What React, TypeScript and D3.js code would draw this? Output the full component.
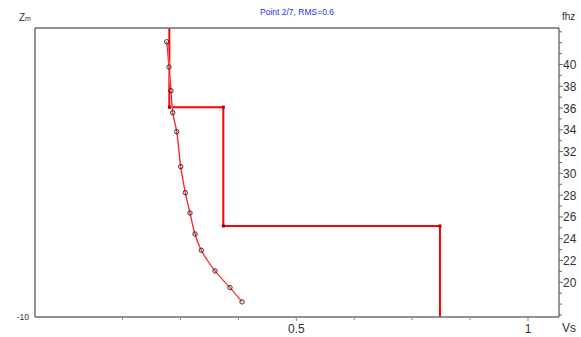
import React from "react";
import * as d3 from "d3";

const title = "Point 2/7, RMS=0.6";
// dispersion curve samples
const curveFreq = [42.09, 39.77, 37.59, 35.57, 33.83, 30.62, 28.23, 26.36, 24.43, 22.94, 21.04, 19.51, 18.2];
const curveVs = [0.2203, 0.2253, 0.2296, 0.2333, 0.2419, 0.2505, 0.2605, 0.2706, 0.2814, 0.295, 0.3246, 0.3569, 0.3828];
// Vs profile layers
const layerVs = [0.226, 0.3425, 0.81];
const layerBottom = [-2.74, -6.85, -10];
const xTickLabels = [0.5, 1];
const xMinorTicks = [0.125, 0.25, 0.375, 0.5, 0.625, 0.75, 0.875, 1];
const fLabelTicks = [20, 22, 24, 26, 28, 30, 32, 34, 36, 38, 40];
const fMinorTicks = [17, 18, 19, 21, 23, 25, 27, 29, 31, 33, 35, 37, 39, 41, 42, 43];

const W = 581, H = 337;
const L = 35, R = 559, T = 28, B = 317;
const font = "'Liberation Sans', Arial, sans-serif";

export default function App() {
  const x = d3.scaleLinear().domain([-0.0639, 1.0669]).range([L, R]);
  const yf = d3.scaleLinear().domain([16.81, 43.35]).range([B, T]);
  const yz = d3.scaleLinear().domain([-10, 0]).range([B, T]);

  const profile: [number, number][] = [];
  let top = 0;
  layerVs.forEach((v, i) => {
    profile.push([v, top]);
    profile.push([v, layerBottom[i]]);
    top = layerBottom[i];
  });
  const profLine = d3.line<[number, number]>().x(d => x(d[0])).y(d => yz(d[1]));
  const pts = curveFreq.map((f, i) => [curveVs[i], f] as [number, number]);
  const curveLine = d3.line<[number, number]>().x(d => x(d[0])).y(d => yf(d[1])).curve(d3.curveCatmullRom);
  const corners = profile.slice(1, -1);

  return (
    <div style={{ position: "fixed", left: 0, top: 0 }}>
      <svg width={W} height={H} style={{ display: "block", background: "#fff" }}>
        <text x={(L + R) / 2} y={15} textAnchor="middle" fontFamily={font} fontSize={8.5} fill="#2a2aff">{title}</text>
        {/* profile */}
        <path d={profLine(profile) || ""} fill="none" stroke="#ff0000" strokeWidth={2} />
        {corners.map((c, i) => (
          <rect key={i} x={x(c[0]) - 1.5} y={yz(c[1]) - 1.5} width={3} height={3} fill="#a00000" />
        ))}
        {/* curve */}
        <path d={curveLine(pts) || ""} fill="none" stroke="#ffb0b0" strokeWidth={1.8} />
        <path d={curveLine(pts) || ""} fill="none" stroke="#ff0000" strokeWidth={0.9} />
        {pts.map((p, i) => (
          <circle key={i} cx={x(p[0])} cy={yf(p[1])} r={2.2} fill="none" stroke="#222" strokeWidth={0.9} />
        ))}
        {/* frame */}
        <line x1={L} y1={T} x2={R} y2={T} stroke="#6e6e6e" strokeWidth={1.5} />
        <line x1={L} y1={T} x2={L} y2={B} stroke="#6e6e6e" strokeWidth={1.5} />
        <line x1={L} y1={B} x2={R} y2={B} stroke="#6e6e6e" strokeWidth={1.5} />
        <line x1={R} y1={T} x2={R} y2={B} stroke="#333" strokeWidth={1} />
        {/* bottom ticks */}
        {xMinorTicks.map(t => (
          <line key={t} x1={x(t)} x2={x(t)} y1={B} y2={B + (xTickLabels.includes(t) ? 4 : 3)} stroke="#888" strokeWidth={1} />
        ))}
        {xTickLabels.map(t => (
          <text key={t} x={x(t)} y={B + 16} textAnchor="middle" fontFamily={font} fontSize={12} fill="#333">{String(t)}</text>
        ))}
        <text x={569} y={B + 15} textAnchor="middle" fontFamily={font} fontSize={12} fill="#333">Vs</text>
        {/* right axis */}
        {fMinorTicks.map(t => (
          <line key={"m" + t} x1={R} x2={R + 3} y1={yf(t)} y2={yf(t)} stroke="#666" strokeWidth={1} />
        ))}
        {fLabelTicks.map(t => (
          <g key={t}>
            <line x1={R} x2={R + 4} y1={yf(t)} y2={yf(t)} stroke="#666" strokeWidth={1} />
            <text x={R + 4} y={yf(t) + 4.5} fontFamily={font} fontSize={12} fill="#333">{t}</text>
          </g>
        ))}
        <text x={562} y={20} fontFamily={font} fontSize={10} fill="#333">fhz</text>
        {/* left axis */}
        <text x={19} y={21} fontFamily={font} fontSize={10} fill="#333">Z<tspan fontSize={7}>m</tspan></text>
        <text x={29} y={B + 3} textAnchor="end" fontFamily={font} fontSize={8.5} fill="#333">-10</text>
      </svg>
    </div>
  );
}
